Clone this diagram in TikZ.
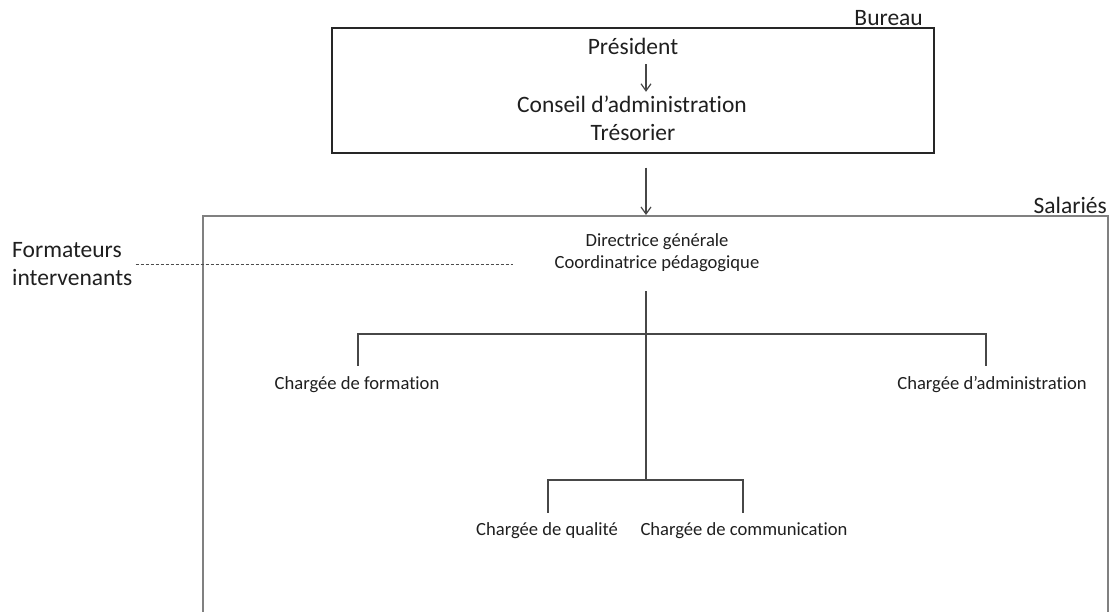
\documentclass[tikz,border=0pt]{standalone}
\usepackage{fontspec}
\setmainfont{Carlito}[Ligatures={NoCommon,NoContextual}]
\usetikzlibrary{arrows.meta}
\begin{document}
\begin{tikzpicture}[x=1pt,y=-1pt,
  big/.style={font=\fontsize{23.5}{28}\selectfont, text=black!88, inner sep=0pt, text height=16pt, text depth=5pt},
  bigml/.style={font=\fontsize{23.5}{28}\selectfont, text=black!88, inner sep=0pt},
  small/.style={font=\fontsize{18.6}{22}\selectfont, text=black!88, inner sep=0pt, text height=13pt, text depth=4pt},
  smallml/.style={font=\fontsize{18.6}{22}\selectfont, text=black!88, inner sep=0pt},
  conn/.style={draw=black!72, line width=1.2pt},
  arr/.style={conn, -{Straight Barb[length=7pt,width=10pt]}},
  frame/.style={draw=black!85, line width=1.4pt, inner sep=0pt},
  bigframe/.style={draw=black!50, line width=2pt, inner sep=0pt},
  dashline/.style={draw=black!70, line width=0.8pt, dash pattern=on 3pt off 2pt}]
\useasboundingbox (0,0) rectangle (1109,611);

% Bureau box
\node[frame, minimum width=602pt, minimum height=125pt] (bureau) at (633,90.5) {};
\node[big, anchor=base east] (bureaulbl) at (923,25) {Bureau};
\node[big] (pres) at (633,49) {Président};
\node[big] (cons) at (632,107) {Conseil d’administration};
\node[big] (tres) at (633,135) {Trésorier};
\draw[arr] ([xshift=13pt,yshift=-4.5pt]pres.south) -- ([xshift=14pt,yshift=4.5pt]cons.north);

% Salariés box (open at the bottom, beyond the page)
\node[bigframe, minimum width=905pt, minimum height=484pt] (sal) at (655.5,458) {};
\node[big, anchor=base east] (sallbl) at (1107,213) {Salariés};
\draw[arr] ([xshift=13pt,yshift=-14pt]bureau.south) -- ([xshift=-9.5pt]sal.north);

% Formateurs intervenants
\node[bigml, align=left, anchor=west] (fi) at (12,264) {Formateurs\\intervenants};
\coordinate (dashend) at (513,264);
\draw[dashline] ([xshift=3pt]fi.east) -- (dashend);

% Direction
\node[smallml, align=center] (dir) at (657,253) {Directrice générale\\Coordinatrice pédagogique};
\coordinate (j1) at (646,334);
\coordinate (j2) at (646,480);
\draw[conn] ([xshift=-11pt,yshift=-19pt]dir.south) -- (j2);

% First level
\node[small] (form) at (357,384.5) {Chargée de formation};
\node[small] (adm) at (992,384.5) {Chargée d’administration};
\draw[conn] ([xshift=1pt,yshift=10pt]form.north) |- (j1) -| ([xshift=-6pt,yshift=10pt]adm.north);

% Second level
\node[small] (qual) at (547,530.5) {Chargée de qualité};
\node[small] (comm) at (744,530.5) {Chargée de communication};
\draw[conn] ([xshift=1pt,yshift=9pt]qual.north) |- (j2) -| ([xshift=-1pt,yshift=9pt]comm.north);
\end{tikzpicture}
\end{document}
